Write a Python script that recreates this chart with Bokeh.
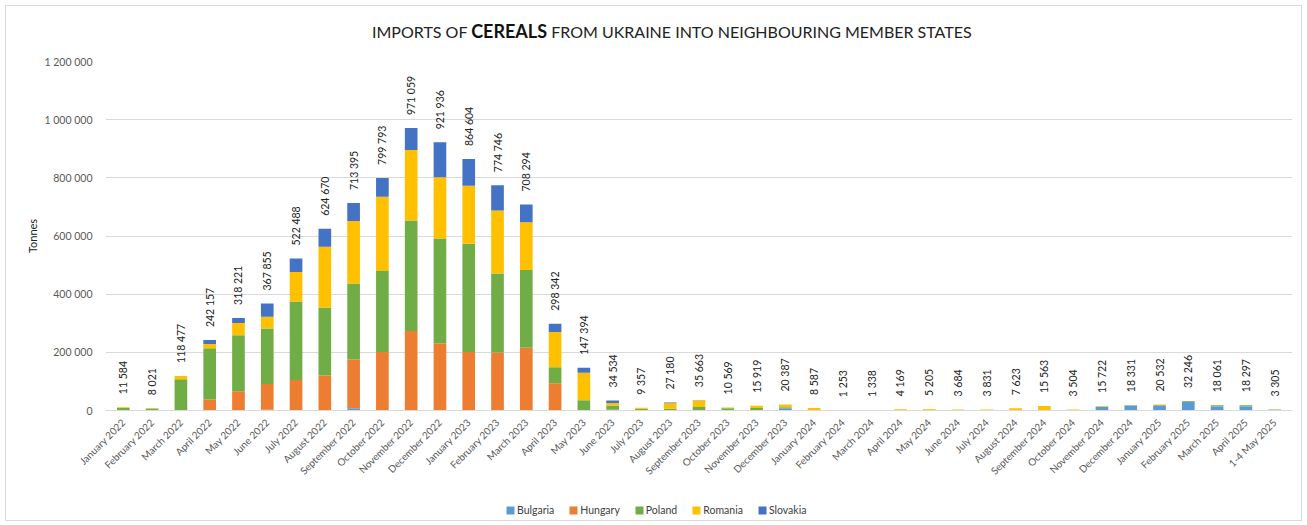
import math
from bokeh.plotting import figure
from bokeh.models import (ColumnDataSource, FactorRange, Range1d, Legend, LegendItem,
                          FixedTicker, Div)
from bokeh.layouts import column
from bokeh.core.properties import value
from bokeh.embed import file_html
from bokeh.resources import INLINE

months = ["January 2022", "February 2022", "March 2022", "April 2022", "May 2022", "June 2022",
          "July 2022", "August 2022", "September 2022", "October 2022", "November 2022",
          "December 2022", "January 2023", "February 2023", "March 2023", "April 2023",
          "May 2023", "June 2023", "July 2023", "August 2023", "September 2023", "October 2023",
          "November 2023", "December 2023", "January 2024", "February 2024", "March 2024",
          "April 2024", "May 2024", "June 2024", "July 2024", "August 2024", "September 2024",
          "October 2024", "November 2024", "December 2024", "January 2025", "February 2025",
          "March 2025", "April 2025", "1-4 May 2025"]

countries = ["Bulgaria", "Hungary", "Poland", "Romania", "Slovakia"]
colors = ["#5B9BD5", "#ED7D31", "#70AD47", "#FFC000", "#4472C4"]

bulgaria = [0, 0, 0, 0, 0, 3000, 2000, 2000, 8000, 0, 2000, 0, 0, 0, 0, 0, 0, 0, 0, 0, 0, 0,
            0, 8000, 0, 0, 0, 0, 0, 0, 0, 0, 0, 0, 13000, 16000, 18000, 30000, 14000, 14000, 0]
hungary = [500, 0, 1477, 38000, 66000, 88000, 103000, 118000, 167000, 201000, 271000, 230000,
           201000, 199000, 216000, 94000, 2000, 3000, 0, 0, 0, 0, 0, 0, 0, 0, 0, 0, 0, 0, 0,
           0, 0, 0, 0, 0, 0, 0, 0, 0, 0]
poland = [8000, 7000, 106000, 176000, 193000, 191000, 270000, 234000, 262000, 279000, 380000,
          361000, 372000, 272000, 267000, 55000, 33000, 14000, 6000, 6000, 12000, 8000, 9000,
          3000, 587, 0, 0, 2000, 3000, 0, 1500, 0, 1563, 0, 0, 2331, 0, 2246, 4061, 4297, 3305]
romania = [2500, 1021, 11000, 15000, 42000, 40000, 101000, 209000, 215000, 255000, 243000,
           211000, 200000, 217000, 164000, 121000, 95000, 9000, 3357, 19000, 22000, 2569, 6919,
           9387, 8000, 1253, 0, 2169, 2205, 3684, 2331, 7623, 14000, 3504, 2722, 0, 2532, 0,
           0, 0, 0]
slovakia = [584, 0, 0, 13157, 17221, 45855, 46488, 61670, 61395, 64793, 75059, 119936, 91604,
            86746, 61294, 28342, 17394, 8534, 0, 2180, 1663, 0, 0, 0, 0, 0, 1338, 0, 0, 0, 0,
            0, 0, 0, 0, 0, 0, 0, 0, 0, 0]

y_ticks = [0, 200000, 400000, 600000, 800000, 1000000, 1200000]
y_tick_labels = ["0", "200 000", "400 000", "600 000", "800 000", "1 000 000", "1 200 000"]

title_parts = ["IMPORTS OF", "CEREALS", "FROM UKRAINE INTO NEIGHBOURING MEMBER STATES"]

totals = [sum(v) for v in zip(bulgaria, hungary, poland, romania, slovakia)]
total_labels = [f"{t:,}".replace(",", " ") for t in totals]

FONT = "Lato"

src = ColumnDataSource(dict(month=months, Bulgaria=bulgaria, Hungary=hungary, Poland=poland,
                            Romania=romania, Slovakia=slovakia, total=totals,
                            label=total_labels))

W = 1295
p = figure(x_range=FactorRange(*months, range_padding=0.12, range_padding_units="absolute"),
           y_range=Range1d(0, 1200000), width=W, height=445,
           output_backend="svg", toolbar_location=None,
           min_border_left=99, min_border_right=9, min_border_top=6, min_border_bottom=90)
p.outline_line_color = None
p.background_fill_color = "white"
p.border_fill_color = "white"

rs = p.vbar_stack(countries, x="month", width=0.44, color=colors, line_color=None, source=src)

p.text(x="month", y="total", text="label", angle=math.pi / 2, text_align="left",
       text_baseline="middle", y_offset=-13, text_font=value(FONT), text_font_size="10.5px",
       text_color="#222222", source=src)

# axes
p.yaxis.ticker = FixedTicker(ticks=y_ticks)
p.yaxis.major_label_overrides = {t: l for t, l in zip(y_ticks, y_tick_labels)}
p.yaxis.axis_line_color = None
p.yaxis.major_tick_line_color = None
p.yaxis.minor_tick_line_color = None
p.yaxis.major_label_text_font = FONT
p.yaxis.major_label_text_font_size = "10.5px"
p.yaxis.major_label_text_color = "#595959"
p.yaxis.major_label_standoff = 7
p.yaxis.axis_label = "Tonnes"
p.yaxis.axis_label_text_font = FONT
p.yaxis.axis_label_text_font_size = "11px"
p.yaxis.axis_label_text_font_style = "normal"
p.yaxis.axis_label_text_color = "#222222"
p.yaxis.axis_label_standoff = 2

p.xaxis.axis_line_color = "#d9d9d9"
p.xaxis.major_tick_line_color = None
p.xaxis.minor_tick_line_color = None
p.xaxis.major_label_orientation = math.pi / 4
p.xaxis.major_label_text_font = FONT
p.xaxis.major_label_text_font_size = "10px"
p.xaxis.major_label_text_color = "#595959"
p.xaxis.major_label_standoff = 4

p.xgrid.grid_line_color = None
p.ygrid.grid_line_color = "#d9d9d9"
p.ygrid.grid_line_width = 1

# legend strip (a small figure holding the legend, drawn from the same series)
lf = figure(x_range=FactorRange(*months), y_range=Range1d(0, 1), width=W, height=20,
            output_backend="svg", toolbar_location=None, x_axis_type=None, y_axis_type=None,
            min_border=0)
lf.outline_line_color = None
lf.grid.visible = False
lrs = lf.vbar_stack(countries, x="month", width=0.44, color=colors, line_color=None,
                    source=src, visible=False)
legend = Legend(items=[LegendItem(label=c, renderers=[r]) for c, r in zip(countries, lrs)],
                orientation="horizontal", location=(400, 4), padding=0, margin=0,
                spacing=14, label_standoff=2, glyph_width=10, glyph_height=10,
                label_height=12, label_text_font=FONT, label_text_font_size="10.5px",
                label_text_color="#404040", border_line_color=None,
                background_fill_alpha=0)
lf.add_layout(legend, "center")

title_html = (
    f'<div style="padding-left:366px;padding-top:15px;line-height:20px;white-space:nowrap;'
    f'font-family:{FONT};font-size:16px;color:#222222;">'
    f'{title_parts[0]} <span style="font-weight:bold;font-size:18px;color:#111111;">'
    f'{title_parts[1]}</span> {title_parts[2]}</div>'
)
title = Div(text=title_html, width=W, height=49, margin=0)

layout = column(title, p, lf, spacing=0)
layout.styles = {"border": "1px solid #d9d9d9", "margin-left": "5px", "margin-top": "5px",
                 "background-color": "white"}

open("out.html", "w").write(file_html(layout, INLINE))
